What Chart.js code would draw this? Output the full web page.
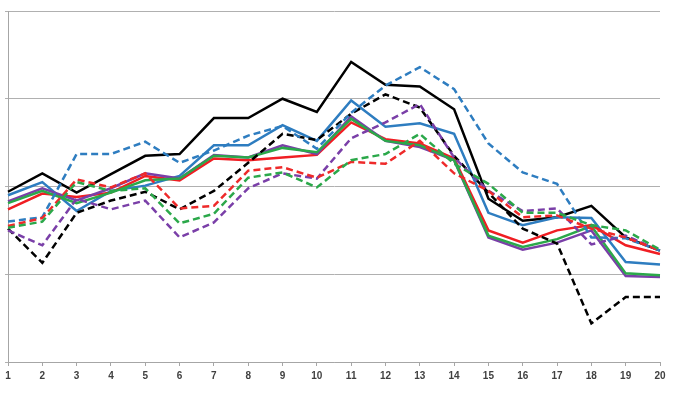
<!DOCTYPE html>
<html>
<head>
<meta charset="utf-8">
<script src="https://cdn.jsdelivr.net/npm/chart.js@4/dist/chart.umd.min.js"></script>
<style>
  html, body { margin: 0; padding: 0; background: #fff; }
  #wrap { width: 686px; height: 398px; }
</style>
</head>
<body>
<div id="wrap"><canvas id="chart"></canvas></div>
<script>
const labels = ["1","2","3","4","5","6","7","8","9","10","11","12","13","14","15","16","17","18","19","20"];

const blackSolid  = [1.94,2.15,1.93,2.14,2.35,2.37,2.78,2.78,3.00,2.85,3.42,3.16,3.14,2.88,1.86,1.61,1.65,1.78,1.42,1.27];
const blackDashed = [1.52,1.13,1.70,1.84,1.94,1.74,1.95,2.27,2.60,2.53,2.83,3.05,2.90,2.35,1.93,1.52,1.35,0.44,0.74,0.74];
const blueSolid   = [1.90,2.05,1.72,1.95,2.01,2.12,2.47,2.47,2.70,2.52,2.98,2.68,2.72,2.60,1.70,1.56,1.65,1.64,1.14,1.11];
const blueDashed  = [1.60,1.65,2.37,2.37,2.51,2.27,2.41,2.58,2.69,2.43,2.84,3.15,3.36,3.11,2.49,2.16,2.03,1.42,1.41,1.27];
const redSolid    = [1.74,1.92,1.88,1.93,2.12,2.07,2.32,2.30,2.33,2.36,2.73,2.54,2.49,2.32,1.50,1.36,1.50,1.56,1.33,1.23];
const redDashed   = [1.55,1.64,2.08,1.99,2.15,1.75,1.78,2.18,2.22,2.10,2.28,2.26,2.52,2.15,1.95,1.65,1.67,1.52,1.42,1.27];
const greenSolid  = [1.81,1.95,1.81,1.93,2.07,2.09,2.35,2.33,2.44,2.39,2.77,2.52,2.47,2.30,1.44,1.31,1.40,1.55,1.01,0.99];
const greenDashed = [1.53,1.60,2.05,1.95,1.98,1.58,1.69,2.10,2.16,1.99,2.30,2.37,2.60,2.26,2.03,1.70,1.70,1.56,1.50,1.28];
const purpleSolid = [1.83,1.98,1.84,1.98,2.15,2.09,2.36,2.33,2.47,2.37,2.80,2.52,2.45,2.30,1.42,1.28,1.36,1.50,0.98,0.97];
const purpleDashed= [1.50,1.33,1.86,1.74,1.84,1.42,1.59,1.98,2.15,2.09,2.55,2.73,2.94,2.33,1.95,1.72,1.75,1.34,1.44,1.27];

function line(label, data, color, dashed) {
    return {
        label: label,
        data: data,
        borderColor: color,
        backgroundColor: color,
        borderWidth: 2.5,
        borderDash: dashed ? [7, 4] : [],
        pointRadius: 0,
        tension: 0,
        fill: false
    };
}

const canvas = document.getElementById("chart");
const chart = new Chart(canvas, {
    type: "line",
    data: {
        labels: labels,
        datasets: [
            line("A dashed", greenDashed, "#2BA84A", true),
            line("B dashed", redDashed, "#EE2A2A", true),
            line("C dashed", purpleDashed, "#7A3FA8", true),
            line("D dashed", blueDashed, "#2E7DC0", true),
            line("E dashed", blackDashed, "#000000", true),
            line("A", greenSolid, "#2BA84A", false),
            line("C", purpleSolid, "#7A3FA8", false),
            line("B", redSolid, "#F01E23", false),
            line("D", blueSolid, "#2E7DC0", false),
            line("E", blackSolid, "#000000", false)
        ]
    },
    options: {
        responsive: true,
        maintainAspectRatio: false,
        animation: false,
        layout: { padding: { left: 5, right: 26, top: 11, bottom: 12 } },
        plugins: {
            legend: { display: false },
            tooltip: { enabled: false }
        },
        scales: {
            x: {
                offset: false,
                grid: {
                    drawOnChartArea: false,
                    drawTicks: true,
                    tickLength: 4,
                    color: "#A6A6A6"
                },
                border: { color: "#A6A6A6", width: 1 },
                ticks: {
                    color: "#404040",
                    font: { family: "Liberation Sans", size: 10, weight: "bold" },
                    padding: 4,
                    maxRotation: 0,
                    autoSkip: false
                }
            },
            y: {
                min: 0,
                max: 4,
                ticks: { display: false, stepSize: 1 },
                grid: {
                    color: "#B0B0B0",
                    lineWidth: 1,
                    drawTicks: true,
                    tickLength: 3
                },
                border: { color: "#A6A6A6", width: 1 }
            }
        }
    }
});
</script>
</body>
</html>
